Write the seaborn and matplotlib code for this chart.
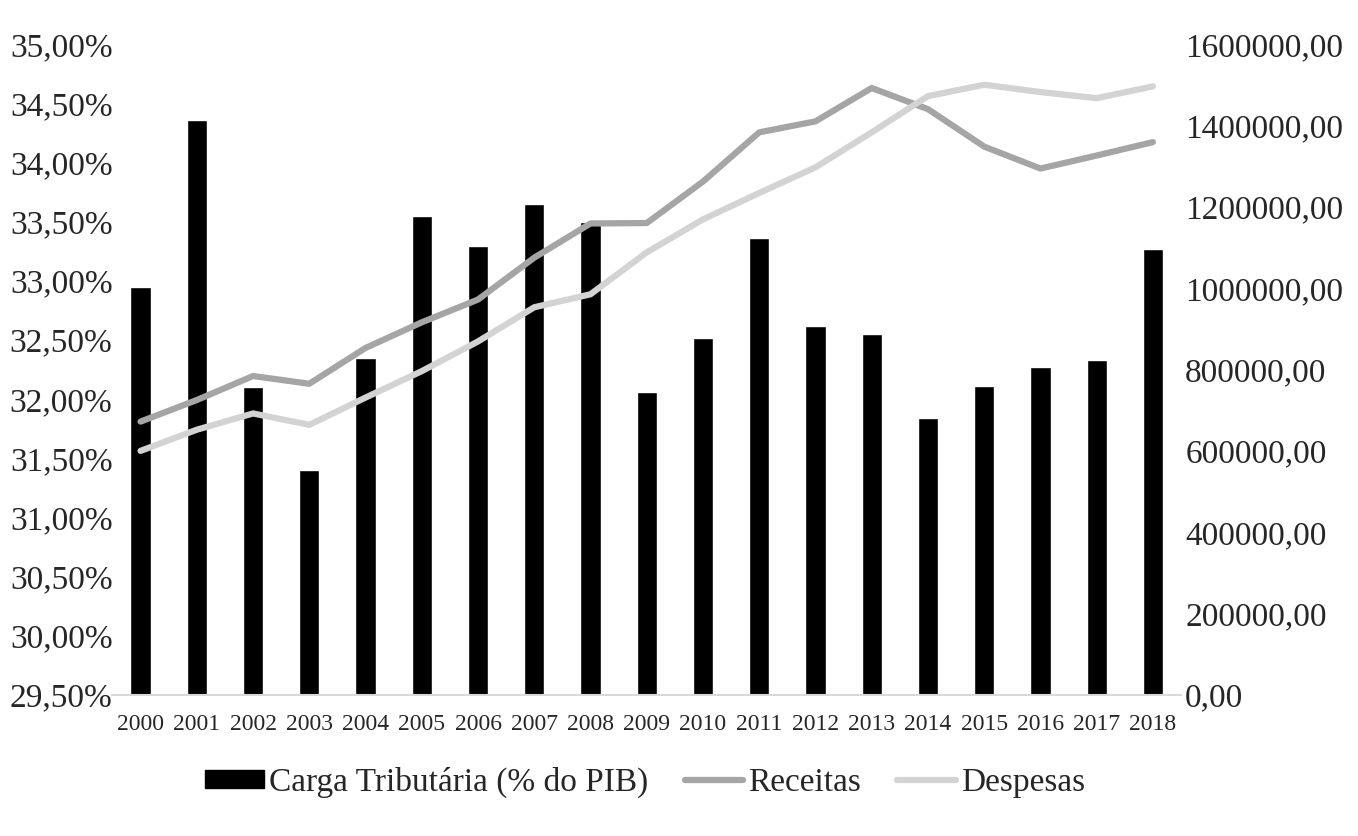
import numpy as np
import pandas as pd
import seaborn as sns
import matplotlib.pyplot as plt
from matplotlib.ticker import FuncFormatter, MultipleLocator
from matplotlib.patches import Patch
from matplotlib.lines import Line2D

# dados
anos = [str(a) for a in range(2000, 2019)]
carga = [32.95, 34.36, 32.10, 31.40, 32.35, 33.55, 33.29, 33.65, 33.50, 32.06,
         32.52, 33.36, 32.62, 32.55, 31.84, 32.11, 32.27, 32.33, 33.27]
receitas = [672000, 725000, 784000, 765000, 853000, 916000, 972000, 1075000, 1159000, 1160000,
            1262000, 1383000, 1410000, 1492000, 1440000, 1348000, 1294000, 1326000, 1359000]
despesas = [600000, 652000, 692000, 664000, 731000, 796000, 869000, 953000, 985000, 1088000,
            1169000, 1234000, 1297000, 1383000, 1472000, 1500000, 1482000, 1467000, 1496000]

df = pd.DataFrame({'ano': anos, 'carga': carga, 'receitas': receitas, 'despesas': despesas})
df['pos'] = np.arange(len(df))

sns.set_style('white')
plt.rcParams['font.family'] = ['Liberation Serif', 'DejaVu Serif']

cor_rec = '#A5A5A5'
cor_desp = '#D3D3D3'

fig = plt.figure(figsize=(13.58, 8.36), dpi=100)
ax = fig.add_axes([0.0828, 0.1687, 0.7869, 0.7786])

sns.barplot(data=df, x='ano', y='carga', color='black', width=0.36,
            saturation=1, ax=ax)
ax.set_ylim(29.5, 35.0)
ax.set_xlim(-0.5, len(df) - 0.5)
ax.yaxis.set_major_locator(MultipleLocator(0.5))
ax.yaxis.set_major_formatter(FuncFormatter(lambda v, p: f'{v:.2f}%'.replace('.', ',')))
ax.set_xlabel('')
ax.set_ylabel('')

ax2 = ax.twinx()
sns.lineplot(data=df, x='pos', y='receitas', color=cor_rec, linewidth=4.5,
             solid_capstyle='round', ax=ax2)
sns.lineplot(data=df, x='pos', y='despesas', color=cor_desp, linewidth=4.5,
             solid_capstyle='round', ax=ax2)
ax2.set_ylim(0, 1600000)
ax2.set_xlim(-0.5, len(df) - 0.5)
ax2.yaxis.set_major_locator(MultipleLocator(200000))
ax2.yaxis.set_major_formatter(FuncFormatter(lambda v, p: f'{v:.2f}'.replace('.', ',')))
ax2.set_ylabel('')

for a in (ax, ax2):
    for s in a.spines.values():
        s.set_visible(False)
    a.grid(False)
ax.spines['bottom'].set_visible(True)
ax.spines['bottom'].set_color('#D9D9D9')
ax.spines['bottom'].set_linewidth(1.5)

ax.tick_params(axis='y', length=0, pad=0, labelsize=24)
ax.tick_params(axis='x', length=0, pad=14, labelsize=17)
ax2.tick_params(axis='y', length=0, pad=3, labelsize=24)

handles = [Patch(facecolor='black', edgecolor='black'),
           Line2D([], [], color=cor_rec, linewidth=4.5),
           Line2D([], [], color=cor_desp, linewidth=4.5)]
labels = ['Carga Tributária (% do PIB)', 'Receitas', 'Despesas']
fig.legend(handles, labels, loc='center', bbox_to_anchor=(0.475, 0.064), ncol=3,
           frameon=False, fontsize=24, handlelength=1.75, handleheight=0.45,
           handletextpad=0.15, columnspacing=1.1)

fig.savefig('out.png', dpi=100)
